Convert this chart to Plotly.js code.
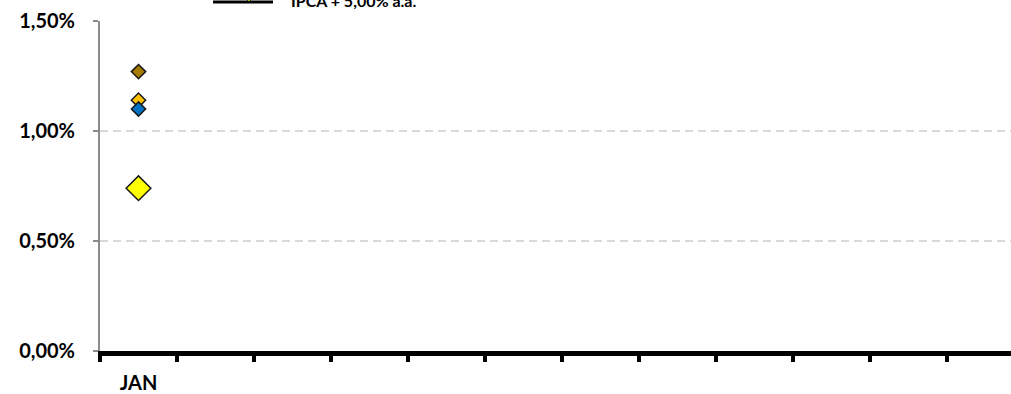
<!DOCTYPE html>
<html>
<head>
<meta charset="utf-8">
<script src="https://cdn.plot.ly/plotly-3.0.1.min.js"></script>
<style>
html,body{margin:0;padding:0;background:#fff;}
#chart{width:1011px;height:394px;}
</style>
</head>
<body>
<div id="chart"></div>
<script>
// Categories (months)
const months = ["JAN","FEV","MAR","ABR","MAI","JUN","JUL","AGO","SET","OUT","NOV","DEZ"];
const monthLabels = ["JAN","","","","","","","","","","",""];

// Series values (monthly return, fraction)
const serieA = [0.0127];   // dark gold
const serieB = [0.0114];   // gold
const serieC = [0.0110];   // blue
const ipcaMais5 = [0.0074]; // IPCA + 5,00% a.a.

const seriesNames = ["Série A","Série B","Série C","IPCA + 5,00% a.a."];
const seriesColors = ["#A67C00","#FFC000","#0070C0","#FFFF00"];
const seriesSizes = [11,11,11,19];

const allValues = [serieA, serieB, serieC, ipcaMais5];

const FONT = "Lato, 'Open Sans', sans-serif";

const traces = allValues.map((vals, i) => ({
  type: "scatter",
  mode: "markers",
  name: seriesNames[i],
  x: months.slice(0, vals.length),
  y: vals,
  marker: {
    symbol: "diamond",
    size: seriesSizes[i],
    color: seriesColors[i],
    line: {color: "#1a1a1a", width: 1.5}
  },
  showlegend: false,
  cliponaxis: false
}));

const layout = {
  width: 1011,
  height: 394,
  margin: {l: 100, r: 0, t: 21, b: 43, pad: 0},
  paper_bgcolor: "#ffffff",
  plot_bgcolor: "#ffffff",
  font: {family: FONT, color: "#000000"},
  showlegend: false,
  xaxis: {
    type: "category",
    categoryorder: "array",
    categoryarray: months,
    tickmode: "array",
    tickvals: months,
    ticktext: monthLabels,
    range: [-0.5, 11.33],
    tickson: "boundaries",
    ticks: "outside",
    ticklen: 6,
    tickwidth: 4,
    tickcolor: "#000000",
    showline: true,
    linecolor: "#000000",
    linewidth: 5,
    showgrid: false,
    zeroline: false,
    ticklabelstandoff: 10,
    tickfont: {family: FONT, size: 20, color: "#000000", weight: "bold"},
    fixedrange: true
  },
  yaxis: {
    range: [0, 0.015],
    tickmode: "array",
    tickvals: [0, 0.005, 0.01, 0.015],
    tickformat: ".2%",
    ticks: "outside",
    ticklen: 5,
    tickwidth: 1.5,
    tickcolor: "#8c8c8c",
    showline: true,
    linecolor: "#8c8c8c",
    linewidth: 2,
    showgrid: true,
    gridcolor: "#d9d9d9",
    gridwidth: 1.5,
    griddash: "8px,5px",
    zeroline: false,
    ticklabelstandoff: 14,
    tickfont: {family: FONT, size: 20, color: "#000000", weight: "bold"},
    fixedrange: true
  },
  separators: ",.",
  annotations: [{
    xref: "paper", yref: "paper",
    x: (289 - 100) / 911, y: (351 - 12) / 330,
    xanchor: "left", yanchor: "bottom",
    text: "<b>" + seriesNames[3] + "</b>",
    showarrow: false,
    font: {family: FONT, size: 16, color: "#000000"}
  }],
  shapes: [
    {type: "line", xref: "paper", yref: "paper",
     x0: (213 - 100) / 911, x1: (273 - 100) / 911,
     y0: (351 - 2) / 330, y1: (351 - 2) / 330,
     line: {color: "#000000", width: 3}},
    {type: "path", xref: "paper", yref: "paper",
     path: (function(){
       const cx = (249 - 100) / 911, cy = (351 + 4) / 330;
       const dx = 5 / 911, dy = 6 / 330;
       return `M ${cx} ${cy+dy} L ${cx+dx} ${cy} L ${cx} ${cy-dy} L ${cx-dx} ${cy} Z`;
     })(),
     fillcolor: "#FFFF00", line: {color: "#000000", width: 1}}
  ]
};

Plotly.newPlot("chart", traces, layout, {displayModeBar: false, staticPlot: true});
</script>
</body>
</html>
